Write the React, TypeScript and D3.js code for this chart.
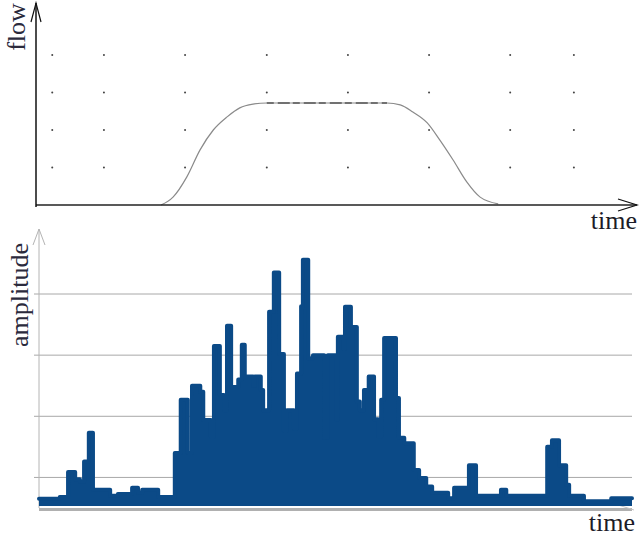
import * as d3 from "d3";

// top panel: flow over time
const flowTime = [20.8, 22.8, 25.1, 27.3, 29.5, 31.8, 33.9, 36.1, 38.4, 48.4, 58.4, 60.6, 62.7, 65.1, 67.2, 69.4, 71.7, 73.9, 76.9];
const flowValue = [0, 0.21, 0.75, 1.47, 2.0, 2.35, 2.59, 2.69, 2.72, 2.72, 2.72, 2.67, 2.48, 2.19, 1.73, 1.2, 0.61, 0.21, 0.03];
const flowGridTimes = [2.7, 11.3, 24.8, 38.4, 51.9, 65.4, 78.9, 89.5];
const flowGridLevels = [1, 2, 3, 4];

// bottom panel: amplitude steps (start time, level)
const ampTime = [
  0, 3.5, 4.9, 6.1, 6.9, 7.6, 8.4, 9.1, 12.0, 13.3, 15.7, 16.7, 17.4, 20.1, 22.9, 23.9, 25.1, 25.8, 27.2, 27.7,
  29.0, 29.5, 30.5, 31.2, 31.7, 32.4, 33.6, 34.2, 34.7, 36.1, 36.4, 37.4, 37.8, 38.8, 39.6, 40.5, 41.3, 41.8, 43.0, 43.5,
  44.2, 44.5, 45.4, 46.2, 48.1, 48.7, 50.1, 50.4, 51.3, 51.6, 52.6, 53.6, 54.1, 54.8, 55.6, 56.5, 57.2, 57.7, 58.2, 60.2,
  60.7, 61.6, 63.2, 64.1, 65.3, 66.3, 69.0, 70.0, 72.5, 73.7, 77.9, 78.8, 85.7, 86.5, 87.7, 88.9, 89.4, 91.9, 96.5, 100,
];
const ampValue = [
  0.65, 0.68, 1.09, 0.97, 0.93, 1.26, 1.73, 0.8, 0.7, 0.73, 0.83, 0.75, 0.8, 0.68, 1.4, 2.27, 1.4, 2.5, 2.4, 1.94,
  1.66, 3.15, 2.35, 2.1, 3.48, 2.48, 2.6, 3.17, 2.65, 2.5, 2.65, 2.43, 2.1, 3.71, 4.35, 3.02, 1.76, 2.1, 1.8, 2.7,
  3.8, 4.56, 2.95, 3.0, 1.65, 3.0, 1.95, 3.3, 3.1, 3.79, 3.46, 2.24, 2.1, 2.43, 2.65, 1.95, 1.67, 2.27, 3.28, 2.3,
  1.65, 1.56, 1.12, 0.99, 0.85, 0.75, 0.66, 0.83, 1.2, 0.7, 0.8, 0.7, 1.5, 1.61, 1.2, 0.88, 0.7, 0.61, 0.66, 0.66,
];
const ampGridLevels = [1, 2, 3, 4];

const W = 639;
const H = 539;
const serif = "Liberation Serif, Times New Roman, Times, DejaVu Serif, serif";
const labelColor = "#2b2a3c";
const blue = "#0b4a87";

export default function App() {
  // top panel scales
  const xFlow = d3.scaleLinear().domain([0, 100]).range([36, 637]);
  const yFlow = d3.scaleLinear().domain([0, 4]).range([205, 55]);
  const flowPts = flowTime.map((t, i) => [t, flowValue[i]] as [number, number]);
  const flowLine = d3
    .line<[number, number]>()
    .x((d) => xFlow(d[0]))
    .y((d) => yFlow(d[1]))
    .curve(d3.curveMonotoneX);
  const plateau = flowPts.filter((d) => d[1] >= 2.72);

  // bottom panel scales
  const xAmp = d3.scaleLinear().domain([0, 100]).range([39, 632]);
  const yAmp = d3.scaleLinear().domain([0.5, 4]).range([508, 294]);
  const ampPts = ampTime.map((t, i) => [t, ampValue[i]] as [number, number]);
  const ampArea = d3
    .area<[number, number]>()
    .x((d) => xAmp(d[0]))
    .y0(yAmp(0.5) - 2)
    .y1((d) => yAmp(d[1]))
    .curve(d3.curveStepAfter);
  const ampLine = d3
    .line<[number, number]>()
    .x((d) => xAmp(d[0]))
    .y((d) => yAmp(d[1]))
    .curve(d3.curveStepAfter);

  const fx0 = xFlow(0);
  const fy0 = yFlow(0);
  const ax0 = xAmp(0);
  const ay0 = yAmp(0.5);
  const textStyle = { fontFamily: serif };

  return (
    <svg
      width={W}
      height={H}
      viewBox={`0 0 ${W} ${H}`}
      style={{ position: "absolute", left: 0, top: 0, background: "#fff" }}
    >
      {/* ---------- top: flow ---------- */}
      <g>
        {flowGridTimes.map((t) =>
          flowGridLevels.map((v) => (
            <circle key={`${t}-${v}`} cx={xFlow(t)} cy={yFlow(v)} r={1} fill="#444" />
          )),
        )}
        <path d={flowLine(flowPts) ?? ""} fill="none" stroke="#8a8a8a" strokeWidth={1.2} />
        <path
          d={flowLine(plateau) ?? ""}
          fill="none"
          stroke="#555"
          strokeWidth={1.4}
          strokeDasharray="7 4 12 3"
        />
        <line x1={fx0} x2={637} y1={fy0} y2={fy0} stroke="#222" strokeWidth={1.5} />
        <line x1={fx0} x2={fx0} y1={fy0 + 2} y2={3} stroke="#111" strokeWidth={1.5} />
        <path d={`M${fx0 - 5},22 L${fx0},3 L${fx0 + 5},22`} fill="none" stroke="#111" strokeWidth={1.2} />
        <path d={`M618,199 L637,${fy0} L618,211`} fill="none" stroke="#111" strokeWidth={1.2} />
        <text transform="translate(25,27) rotate(-90)" textAnchor="middle" style={textStyle} fontSize={26} fill={labelColor}>
          flow
        </text>
        <text x={637} y={229} textAnchor="end" style={textStyle} fontSize={26} fill="#1c1c28">
          time
        </text>
      </g>

      {/* ---------- bottom: amplitude ---------- */}
      <g>
        {ampGridLevels.map((v) => (
          <line key={v} x1={34} x2={632} y1={yAmp(v)} y2={yAmp(v)} stroke="#a8a8a8" strokeWidth={1} />
        ))}
        <line x1={ax0} x2={ax0} y1={ay0} y2={229} stroke="#b4b4b4" strokeWidth={1} />
        <path d={`M${ax0 - 6},245 L${ax0},229 L${ax0 + 6},245`} fill="none" stroke="#b4b4b4" strokeWidth={1} />
        <line x1={ax0} x2={632} y1={ay0 + 1.5} y2={ay0 + 1.5} stroke="#b0b0b0" strokeWidth={3} />
        <line x1={612} x2={634} y1={503} y2={510} stroke="#c4c4c4" strokeWidth={1} />
        <path d={ampArea(ampPts) ?? ""} fill={blue} stroke="none" />
        <path
          d={ampLine(ampPts) ?? ""}
          fill="none"
          stroke={blue}
          strokeWidth={4}
          strokeLinejoin="round"
          strokeLinecap="round"
        />
        <text transform="translate(28,295) rotate(-90)" textAnchor="middle" style={textStyle} fontSize={26} fill={labelColor}>
          amplitude
        </text>
        <text x={635} y={531} textAnchor="end" style={textStyle} fontSize={26} fill="#1c1c28">
          time
        </text>
      </g>
    </svg>
  );
}
